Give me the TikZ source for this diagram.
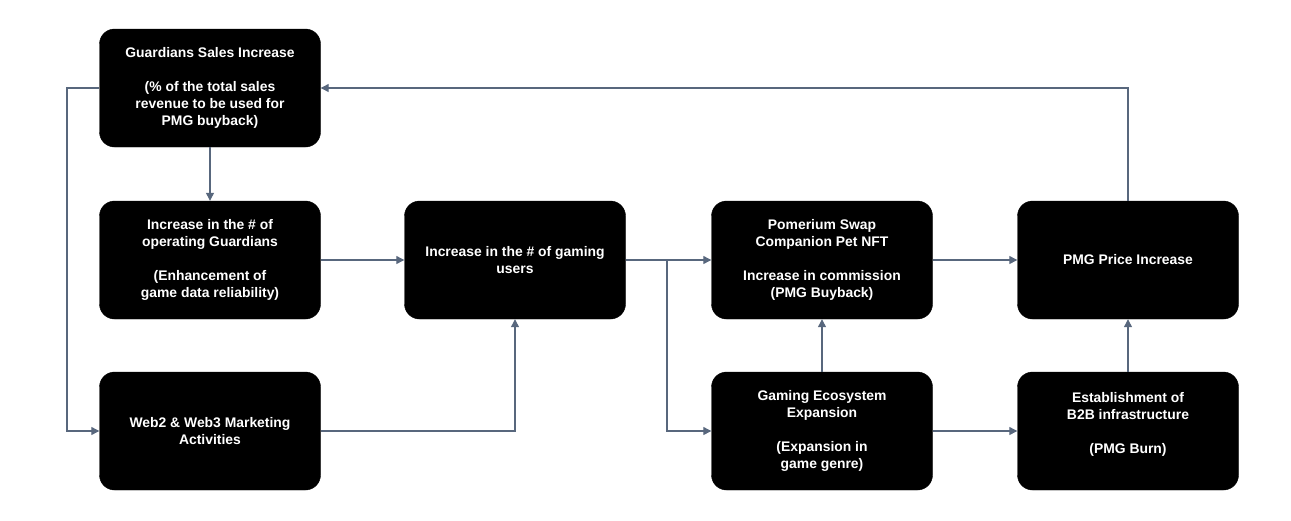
\documentclass[tikz,border=0pt]{standalone}
\usepackage{fontspec}
\setmainfont{Liberation Sans}
\usetikzlibrary{arrows.meta}
\definecolor{linkgray}{RGB}{88,103,125}
\begin{document}
\begin{tikzpicture}[x=1pt,y=-1pt,
  box/.style={shape=rectangle,draw=black,fill=black,rounded corners=15pt,
    minimum width=221pt,minimum height=118pt,inner sep=0pt,text=white,align=center,
    font=\bfseries\fontsize{13.9}{17}\selectfont},
  link/.style={draw=linkgray,line width=1.2pt,-{Triangle[length=8pt,width=8pt]}}]
 \useasboundingbox (0,0) rectangle (1291,520);
 \node (box 1) at (210,88) [box] {Guardians Sales Increase\\[17pt](\% of the total sales\\revenue to be used for\\PMG buyback)};
 \node (box 2) at (210,260) [box] {Increase in the \# of\\operating Guardians\\[17pt](Enhancement of\\game data reliability)};
 \node (box 3) at (515,260) [box] {Increase in the \# of gaming\\users};
 \node (box 4) at (822,260) [box] {Pomerium Swap\\Companion Pet NFT\\[17pt]Increase in commission\\(PMG Buyback)};
 \node (box 5) at (1128,260) [box] {PMG Price Increase};
 \node (box 6) at (210,431) [box] {Web2 \& Web3 Marketing\\Activities};
 \node (box 7) at (822,431) [box] {Gaming Ecosystem\\Expansion\\[17pt](Expansion in\\game genre)};
 \node (box 8) at (1128,431) [box] {Establishment of\\B2B infrastructure\\[17pt](PMG Burn)\\\mbox{}};
 \coordinate (left bend) at (67,88);
 \coordinate (fork) at (667,260);
 \draw [link] (box 1) -- (box 2);
 \draw [link] (box 1.west) -- (left bend) |- (box 6.west);
 \draw [link] (box 2) -- (box 3);
 \draw [link] (box 6.east) -| (box 3.south);
 \draw [draw=linkgray,line width=1.2pt] (box 3.east) -- (fork);
 \draw [link] (fork) -- (box 4.west);
 \draw [link] (fork) |- (box 7.west);
 \draw [link] (box 4) -- (box 5);
 \draw [link] (box 7) -- (box 4);
 \draw [link] (box 7) -- (box 8);
 \draw [link] (box 8) -- (box 5);
 \draw [link] (box 5.north) |- (box 1.east);
\end{tikzpicture}
\end{document}
